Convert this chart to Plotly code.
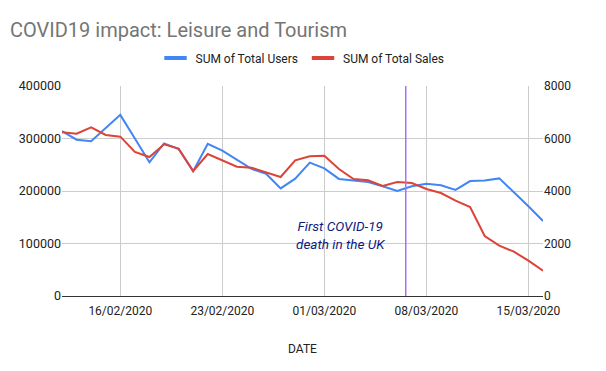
import pandas as pd
import plotly.graph_objects as go

dates = pd.date_range("2020-02-12", "2020-03-16", freq="D")
total_users = [314000, 297700, 295000, 320000, 345000, 300000, 254600, 290800, 280000, 237500,
               290000, 276800, 260000, 242000, 233000, 205000, 223500, 254000, 243000, 223000,
               220000, 217000, 209000, 200000, 209000, 214000, 211000, 202000, 219000, 220000,
               224000, 198000, 171000, 143000]
total_sales = [6236, 6184, 6425, 6133, 6070, 5486, 5295, 5778, 5613, 4762,
               5410, 5156, 4927, 4889, 4711, 4533, 5168, 5321, 5346, 4838,
               4457, 4406, 4190, 4343, 4305, 4076, 3924, 3632, 3390, 2286,
               1917, 1689, 1346, 965]
event_date = "2020-03-06 14:00"
tick_dates = ["2020-02-16", "2020-02-23", "2020-03-01", "2020-03-08", "2020-03-15"]
tick_text = ["16/02/2020", "23/02/2020", "01/03/2020", "08/03/2020", "15/03/2020"]

font = "Roboto, Arial, sans-serif"
blue, red = "#4285F4", "#DB4437"
fig = go.Figure()
fig.add_trace(go.Scatter(x=dates, y=total_users, name="SUM of Total Users", mode="lines",
                         line=dict(color=blue, width=2), yaxis="y", showlegend=False))
fig.add_trace(go.Scatter(x=dates, y=total_sales, name="SUM of Total Sales", mode="lines",
                         line=dict(color=red, width=2), yaxis="y2", showlegend=False))
# legend entries with short bar symbols
for nm, col in [("SUM of Total Users", blue), ("SUM of Total Sales", red)]:
    fig.add_trace(go.Scatter(x=[None], y=[None], name=nm, mode="markers",
                             marker=dict(symbol="line-ew", size=16,
                                         line=dict(color=col, width=4)),
                             showlegend=True))

fig.add_shape(type="line", xref="x", yref="paper", x0=event_date, x1=event_date, y0=0, y1=1,
              line=dict(color="#A970F5", width=1.5), layer="above")
fig.add_annotation(x="2020-03-02 02:00", y=116000, xref="x", yref="y",
                   text="<i>First COVID-19<br>death in the UK</i>", showarrow=False,
                   font=dict(family=font, size=13.5, color="#0D1A80"), align="center")

fig.update_layout(
    width=606, height=371,
    margin=dict(l=62, r=63, t=86, b=75, autoexpand=False),
    paper_bgcolor="white", plot_bgcolor="white",
    font=dict(family=font, size=12, color="#444444"),
    title=dict(text="COVID19 impact: Leisure and Tourism", x=0.0165, xanchor="left",
               y=1 - 30 / 371, yanchor="middle", font=dict(family=font, size=20, color="#757575")),
    legend=dict(orientation="h", x=0.5, xanchor="center", y=1 - 58 / 371, yref="container",
                yanchor="middle", font=dict(family=font, size=12, color="#222222"),
                itemwidth=30, traceorder="normal"),
    showlegend=True,
    xaxis=dict(range=["2020-02-12", "2020-03-16"], tickvals=tick_dates, ticktext=tick_text,
               showgrid=True, gridcolor="#CCCCCC", gridwidth=1, showline=True,
               linecolor="#333333", linewidth=1, ticks="", zeroline=False,
               ticklabelstandoff=4,
               title=dict(text="DATE", font=dict(family=font, size=12, color="#222222"), standoff=27),
               tickfont=dict(family=font, size=12, color="#222222")),
    yaxis=dict(range=[0, 400000], tickvals=[0, 100000, 200000, 300000, 400000],
               ticktext=["0", "100000", "200000", "300000", "400000"],
               showgrid=True, gridcolor="#CCCCCC", zeroline=False, showline=False,
               tickfont=dict(family=font, size=12.5, color="#222222"), ticks=""),
    yaxis2=dict(range=[0, 8000], tickvals=[0, 2000, 4000, 6000, 8000],
                ticktext=["0", "2000", "4000", "6000", "8000"], overlaying="y", side="right",
                showgrid=False, zeroline=False, showline=False,
                tickfont=dict(family=font, size=12, color="#222222"), ticks=""),
)
fig.write_html("out.html", config={"displayModeBar": False},
               post_script="document.body.style.margin='0';document.body.style.overflow='hidden';")
